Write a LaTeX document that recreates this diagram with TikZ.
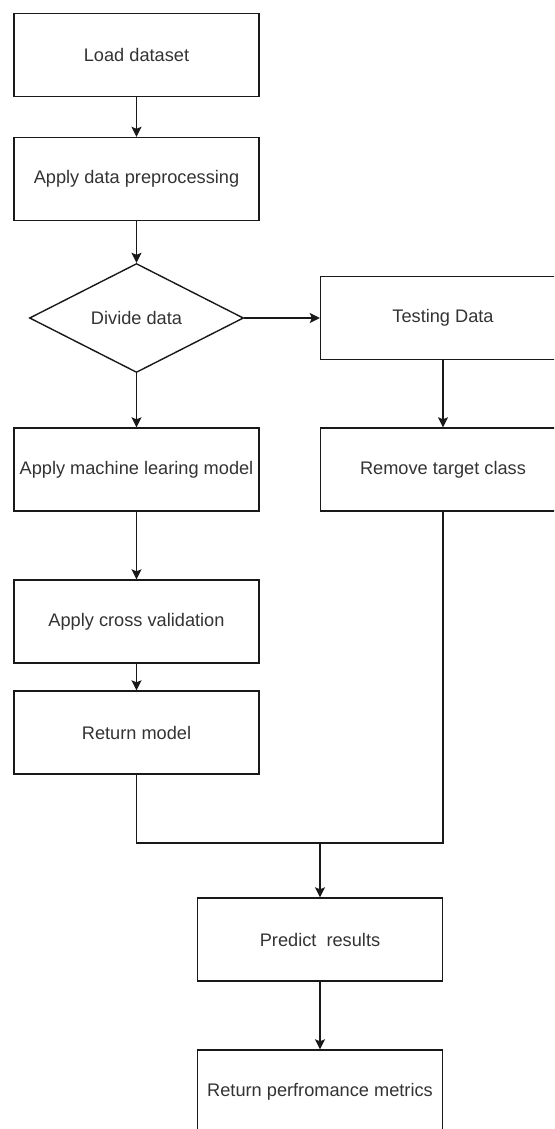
\documentclass[tikz,border=0pt]{standalone}
\usepackage{fontspec}
\setmainfont{Liberation Sans}
\usetikzlibrary{shapes.geometric,arrows.meta}
\tikzset{
  stepbox/.style={draw=black!90, line width=1.4pt, minimum width=245pt, minimum height=83pt,
    inner sep=0pt, text=black!80, font=\fontsize{18.2}{22}\selectfont},
  decide/.style={stepbox, diamond, aspect=2, minimum width=214pt, minimum height=109pt},
  flow/.style={draw=black!90, line width=1.4pt, -{Stealth[length=10pt,width=10pt,inset=2pt]}},
  link/.style={draw=black!90, line width=1.4pt}
}

\begin{document}
\begin{tikzpicture}[x=1pt,y=-1pt]
			%%%%% START %%%%%
			\useasboundingbox (0,0) rectangle (554,1129);
			\clip (0,0) rectangle (554,1129);
			
			\node[stepbox] (load) at (136.5,55) {Load dataset};
			\node[stepbox] (prep) at (136.5,179) {Apply data preprocessing};
			\node[decide] (divide) at (136.5,318) {Divide data};
			
			\node[stepbox] (testing) at (443,318) {Testing Data};
			\node[stepbox] (remove) at (443,469.5) {Remove target class};
			
			\node[stepbox] (mlmodel) at (136.5,469.5) {Apply machine learing model};
			\node[stepbox] (crossval) at (136.5,621.5) {Apply cross validation};
			\node[stepbox] (retmodel) at (136.5,732.5) {Return model};
			
			\node[stepbox] (predict) at (320,939.5) {Predict\ \ results};
			\node[stepbox] (metrics) at (320,1091.5) {Return perfromance metrics};
			
			\coordinate (join) at (320,843);
			
			\draw[flow] (load) -- (prep);
			\draw[flow] (prep) -- (divide);
			\draw[flow] (divide.east) -- (testing.west);
			\draw[flow] (divide) -- (mlmodel);
			\draw[flow] (testing) -- (remove);
			\draw[flow] (mlmodel) -- (crossval);
			\draw[flow] (crossval) -- (retmodel);
			
			\draw[link] (retmodel.south) |- (join);
			\draw[link] (remove.south) |- (join);
			\draw[flow] (join) -- (predict);
			\draw[flow] (predict) -- (metrics);
			
			%%%%% END %%%%%
\end{tikzpicture}
\end{document}
